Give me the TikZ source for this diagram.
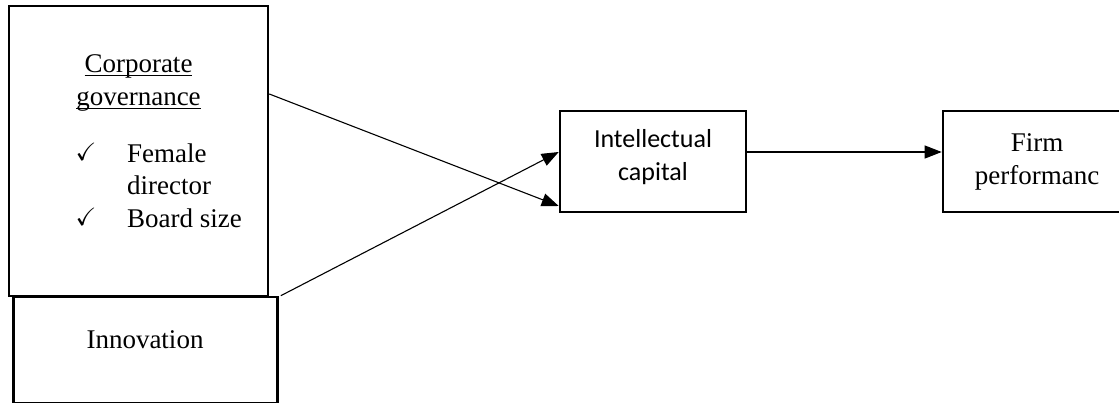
\documentclass[tikz,border=0pt]{standalone}
\usepackage{amssymb}
\usepackage{fontspec}
\setmainfont{Liberation Serif}
\newfontfamily\calfont{Carlito}
\usetikzlibrary{arrows.meta,calc}

% underline at a fixed depth, crossing descenders like a word processor does
\newcommand\uword[1]{\setbox0\hbox{#1}\rlap{\rule[-3.6pt]{\wd0}{1.1pt}}\box0}

\tikzset{
  box/.style={draw, line width=2.6pt, rectangle, inner sep=0pt},
  link/.style={line width=1.1pt, -{Triangle[length=17pt,width=13pt]}},
  serif/.style={font=\fontsize{27}{32.5}\selectfont},
  sans/.style={font=\calfont\fontsize{26}{33}\selectfont},
  checkmark/.style={font=\fontsize{25}{26}\selectfont, anchor=base, inner sep=0pt},
}

\begin{document}
\begin{tikzpicture}[x=1pt,y=-1pt]
\useasboundingbox (0,0) rectangle (1119,402);

% boxes
\node[box, minimum width=259pt, minimum height=290pt] (cg) at (138.5,151) {};
\node[box, minimum width=264pt, minimum height=106pt] (inn) at (145.5,350) {};
\node[box, minimum width=186pt, minimum height=101pt] (ic) at (653,161.5) {};
\node[box, minimum width=190pt, minimum height=101pt] (fp) at (1038,161.5) {};

% corporate governance contents (base anchor = last line's baseline)
\node[serif, anchor=base, align=center, inner sep=0pt] (cgtitle) at (138.5,105)
  {\uword{Corporate}\\\uword{governance}};
\node[serif, anchor=base west, align=left, inner sep=0pt] (cgitems) at (127,227)
  {Female\\director\\Board size};
\node[checkmark] (chka) at (86,160) {$\checkmark$};
\node[checkmark] (chkb) at (86,225) {$\checkmark$};

% other labels
\node[serif, anchor=base, inner sep=0pt] (inntext) at (145,348) {Innovation};
\node[sans, anchor=base, align=center, inner sep=0pt] (ictext) at (653,180)
  {Intellectual\\capital};
\node[serif, anchor=base, align=center, inner sep=0pt] (fptext) at (1037,184)
  {Firm\\performanc};

% connectors
\draw[link] ([yshift=57pt]cg.east) -- ([yshift=-44.5pt]ic.west);
\draw[link] ([xshift=2pt]inn.north east) -- ([yshift=9.5pt]ic.west);
\draw[link] ([yshift=9.5pt]ic.east) -- ([yshift=9.5pt]fp.west);
\end{tikzpicture}
\end{document}
